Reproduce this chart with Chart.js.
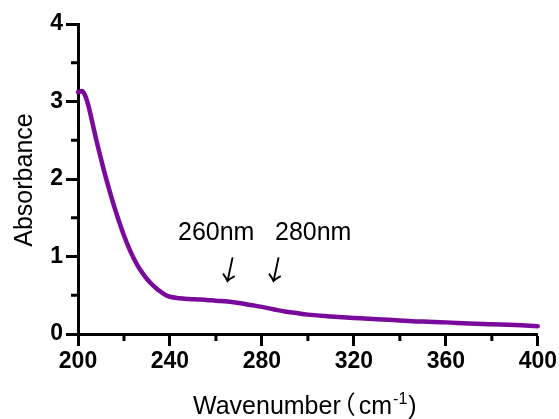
<!DOCTYPE html>
<html>
<head>
<meta charset="utf-8">
<script src="https://cdn.jsdelivr.net/npm/chart.js@4.4.0/dist/chart.umd.min.js"></script>
<style>
html,body{margin:0;padding:0;background:#fff;}
#wrap{width:559px;height:419px;position:relative;}
</style>
</head>
<body>
<div id="wrap"><canvas id="c" width="559" height="419"></canvas></div>
<script>
const wavenumbers = [200,202,204,206,208,210,212,214,216,218,220,222,224,226,228,230,232,234,236,238,240,244,248,252,256,260,265,270,275,280,285,290,295,300,310,320,330,340,350,360,370,380,390,400];
const absorbance = [3.12,3.13,3.00,2.76,2.50,2.26,2.03,1.82,1.62,1.44,1.27,1.12,0.99,0.88,0.79,0.71,0.645,0.59,0.545,0.505,0.48,0.462,0.452,0.446,0.44,0.43,0.42,0.40,0.375,0.35,0.32,0.29,0.27,0.25,0.225,0.205,0.19,0.175,0.16,0.15,0.135,0.125,0.115,0.10];
const xMajorTicks = [200,240,280,320,360,400];
const xMinorTicks = [220,260,300,340,380];
const yMajorTicks = [0,1,2,3,4];
const yMinorTicks = [0.5,1.5,2.5,3.5];
const annotations = [{text:'260nm', x:178, y:240}, {text:'280nm', x:275, y:240}];
const arrows = [{x:230, y:270}, {x:276, y:270}];
const xTitle = 'Wavenumber';
const xTitleUnit = 'cm';

const points = wavenumbers.map((w,i)=>({x:w, y:absorbance[i]}));

const decor = {
  id:'decor',
  afterDraw(chart){
    const ctx = chart.ctx;
    const xs = chart.scales.x, ys = chart.scales.y;
    const bottom = chart.chartArea.bottom, left = chart.chartArea.left;
    ctx.save();
    ctx.strokeStyle = '#000';
    ctx.lineWidth = 3;
    ctx.beginPath();
    xMinorTicks.forEach(v=>{const p=xs.getPixelForValue(v); ctx.moveTo(p,bottom); ctx.lineTo(p,bottom+7);});
    yMinorTicks.forEach(v=>{const p=ys.getPixelForValue(v); ctx.moveTo(left,p); ctx.lineTo(left-7,p);});
    ctx.stroke();
    // annotations
    ctx.fillStyle = '#000';
    ctx.font = '25px "Liberation Sans", Arial, sans-serif';
    ctx.textAlign = 'left';
    ctx.textBaseline = 'alphabetic';
    annotations.forEach(a=>ctx.fillText(a.text, a.x, a.y));
    // arrows
    ctx.font = '28px "Noto Sans CJK SC", "DejaVu Sans", sans-serif';
    ctx.textAlign = 'center';
    ctx.textBaseline = 'middle';
    arrows.forEach(a=>{ctx.save(); ctx.translate(a.x, a.y); ctx.rotate(12*Math.PI/180); ctx.fillText('↓',0,0); ctx.restore();});
    ctx.textBaseline = 'alphabetic';
    // y title
    ctx.save();
    ctx.translate(32, 180);
    ctx.rotate(-Math.PI/2);
    ctx.font = '25px "Liberation Sans", Arial, sans-serif';
    ctx.textAlign = 'center';
    ctx.fillText('Absorbance', 0, 0);
    ctx.restore();
    // x title with superscript
    ctx.save();
    ctx.translate(193, 414);
    ctx.textAlign = 'left';
    ctx.font = '25px "Liberation Sans", Arial, sans-serif';
    let x = 0;
    ctx.fillText(xTitle, x, 0); x += ctx.measureText(xTitle).width;
    ctx.font = '25px "Noto Sans CJK SC", sans-serif';
    ctx.fillText('（', x - 10, 0); x += 18;
    ctx.font = '25px "Liberation Sans", Arial, sans-serif';
    ctx.fillText(xTitleUnit, x, 0); x += ctx.measureText(xTitleUnit).width;
    ctx.font = '16px "Liberation Sans", Arial, sans-serif';
    ctx.fillText('-1', x+1, -10); x += ctx.measureText('-1').width + 2;
    ctx.font = '25px "Liberation Sans", Arial, sans-serif';
    ctx.fillText(')', x, 0);
    ctx.restore();
    ctx.restore();
  }
};

new Chart(document.getElementById('c'), {
  type:'line',
  data:{datasets:[{
    data:points,
    borderColor:'#7a0a9c',
    borderWidth:4.5,
    pointRadius:0,
    fill:false,
    tension:0.4,
    borderCapStyle:'round',
    borderJoinStyle:'round',
    clip:false
  }]},
  options:{
    responsive:false,
    animation:false,
    events:[],
    layout:{padding:{left:0,right:21,top:24,bottom:0}},
    plugins:{legend:{display:false},tooltip:{enabled:false},title:{display:false}},
    scales:{
      x:{
        type:'linear', min:200, max:400,
        afterBuildTicks(s){s.ticks = xMajorTicks.map(v=>({value:v}));},
        afterFit(s){s.height = 85;},
        grid:{drawOnChartArea:false, drawTicks:true, tickLength:12, tickWidth:3, tickColor:'#000'},
        border:{display:true, width:3, color:'#000'},
        ticks:{color:'#000', font:{family:'"Liberation Sans", Arial, sans-serif', size:23, weight:'bold'}, padding:2, maxRotation:0, autoSkip:false}
      },
      y:{
        type:'linear', min:0, max:4,
        afterBuildTicks(s){s.ticks = yMajorTicks.map(v=>({value:v}));},
        afterFit(s){s.width = 78;},
        grid:{drawOnChartArea:false, drawTicks:true, tickLength:12, tickWidth:3, tickColor:'#000'},
        border:{display:true, width:3, color:'#000'},
        ticks:{color:'#000', font:{family:'"Liberation Sans", Arial, sans-serif', size:23, weight:'bold'}, padding:3, autoSkip:false}
      }
    }
  },
  plugins:[decor]
});
</script>
</body>
</html>
